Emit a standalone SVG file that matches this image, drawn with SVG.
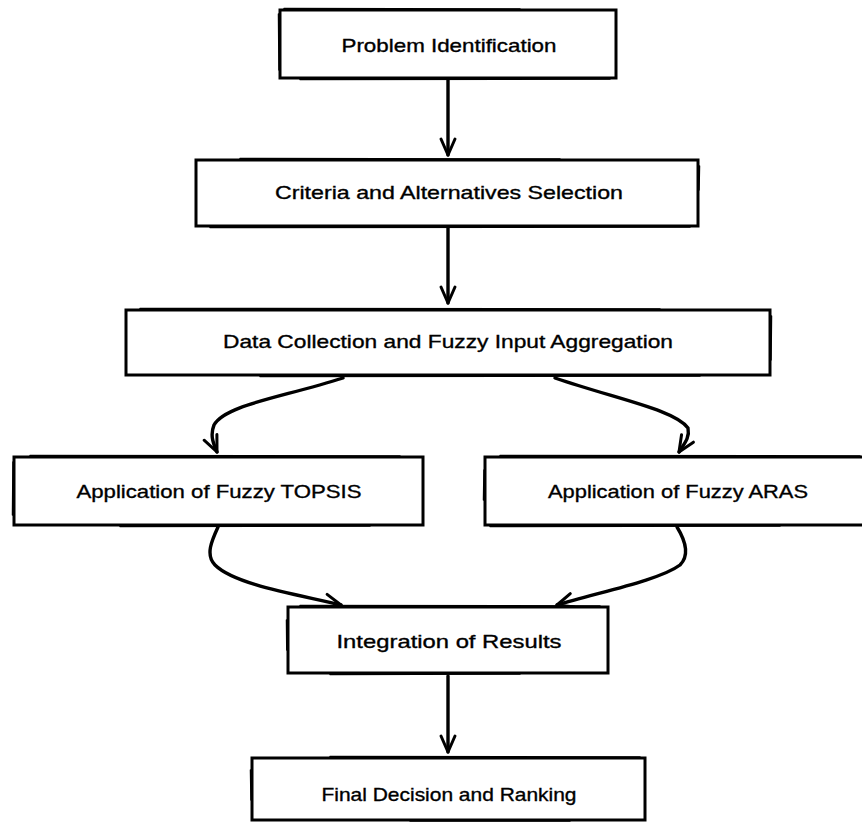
<svg xmlns="http://www.w3.org/2000/svg" width="862" height="823" viewBox="0 0 862 823">
<defs>
<style>
.box{fill:#ffffff;stroke:#000;stroke-width:3}
.sk{fill:none;stroke:#000;stroke-width:1.5;stroke-linecap:round}
.lbl{font-family:"Liberation Sans",Arial,sans-serif;font-size:19px;fill:#000;stroke:#000;stroke-width:0.35;text-anchor:middle}
.con{fill:none;stroke:#000;stroke-width:3.4;stroke-linecap:round;stroke-linejoin:round}
</style>
<marker id="ah" viewBox="-20 -11 24 22" markerWidth="24" markerHeight="22" refX="0" refY="0" orient="auto" markerUnits="userSpaceOnUse">
<path d="M -16 -7 L 0 0 L -16 7" fill="none" stroke="#000" stroke-width="3" stroke-linecap="round" stroke-linejoin="round"/>
</marker>
</defs>
<rect width="862" height="823" fill="#ffffff"/>
<g id="connectors">
<path class="con" d="M 448 80 L 448 155" marker-end="url(#ah)"/>
<path class="con" d="M 448 228 L 448 303" marker-end="url(#ah)"/>
<path class="con" d="M 343 378 C 280 398, 225 405, 214 425 C 210 435, 213 443, 217 452" marker-end="url(#ah)"/>
<path class="con" d="M 555 378 C 620 400, 675 410, 688 428 C 690 438, 684 444, 679 452" marker-end="url(#ah)"/>
<path class="con" d="M 218 527 C 212 540, 205 555, 215 565 C 235 585, 300 595, 341 605" marker-end="url(#ah)"/>
<path class="con" d="M 677 527 C 685 540, 690 555, 680 565 C 660 580, 600 592, 557 605" marker-end="url(#ah)"/>
<path class="con" d="M 448 676 L 448 752" marker-end="url(#ah)"/>
</g>
<g id="n1">
<rect class="box" x="280" y="10" width="336" height="68"/>
<path class="sk" d="M 284 8.5 L 520 9 M 300 79.5 L 610 79 M 278.5 14 L 279 70"/>
<text class="lbl" x="449" y="52" textLength="215" lengthAdjust="spacingAndGlyphs">Problem Identification</text>
</g>
<g id="n2">
<rect class="box" x="196" y="160" width="502" height="66"/>
<path class="sk" d="M 240 158.5 L 560 159 M 210 227.5 L 690 227 M 699.5 166 L 699 190"/>
<text class="lbl" x="449" y="199" textLength="348" lengthAdjust="spacingAndGlyphs">Criteria and Alternatives Selection</text>
</g>
<g id="n3">
<rect class="box" x="126" y="310" width="644" height="65"/>
<path class="sk" d="M 140 308.5 L 660 309 M 260 376.5 L 700 376 M 771.5 316 L 771 360"/>
<text class="lbl" x="448" y="348" textLength="450" lengthAdjust="spacingAndGlyphs">Data Collection and Fuzzy Input Aggregation</text>
</g>
<g id="n4">
<rect class="box" x="14" y="457" width="409" height="68"/>
<path class="sk" d="M 30 455.5 L 400 456 M 120 526.5 L 370 526 M 13 462 L 12.5 515"/>
<text class="lbl" x="219" y="498" textLength="285" lengthAdjust="spacingAndGlyphs">Application of Fuzzy TOPSIS</text>
</g>
<g id="n5">
<rect class="box" x="485" y="457" width="390" height="68"/>
<path class="sk" d="M 500 455.5 L 860 456 M 490 526.5 L 780 526 M 484 470 L 483.5 500"/>
<text class="lbl" x="678" y="498" textLength="260" lengthAdjust="spacingAndGlyphs">Application of Fuzzy ARAS</text>
</g>
<g id="n6">
<rect class="box" x="288" y="607" width="320" height="66"/>
<path class="sk" d="M 300 605.5 L 600 606 M 330 674.5 L 520 674 M 286.5 620 L 286.8 650"/>
<text class="lbl" x="449" y="648" textLength="225" lengthAdjust="spacingAndGlyphs">Integration of Results</text>
</g>
<g id="n7">
<rect class="box" x="252" y="758" width="393" height="62"/>
<path class="sk" d="M 330 756.5 L 640 757 M 410 821 L 570 821 M 250.5 770 L 251 800"/>
<text class="lbl" x="449" y="801" textLength="255" lengthAdjust="spacingAndGlyphs">Final Decision and Ranking</text>
</g>
</svg>
